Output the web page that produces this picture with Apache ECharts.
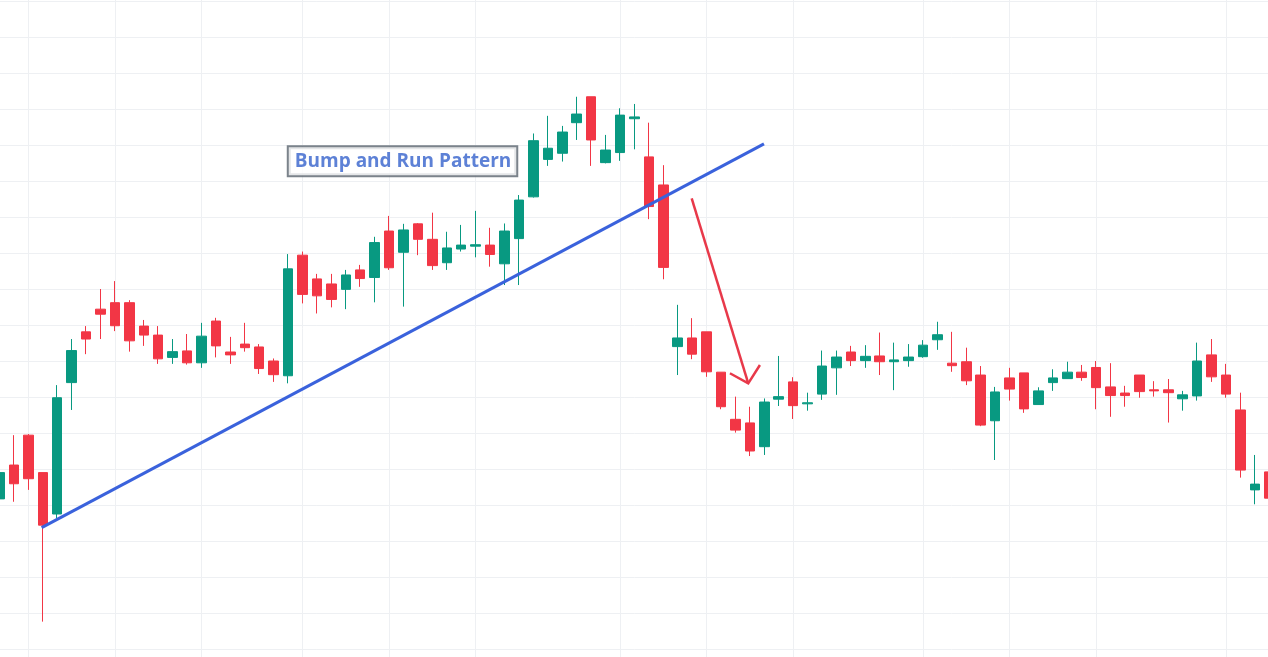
<!DOCTYPE html>
<html>
<head>
<meta charset="utf-8">
<script src="https://cdn.jsdelivr.net/npm/echarts@6/dist/echarts.min.js"></script>
<style>
html,body{margin:0;padding:0;background:#fff;}
#chart{width:1268px;height:657px;}
</style>
</head>
<body>
<div id="chart"></div>
<script>
// Bar index labels (one per candle)
const categories = Array.from({length: 89}, (_, i) => String(i + 1));

// OHLC: [open, close, low, high]
const ohlc = [
  [104.17,104.90,104.08,105.03],
  [105.11,104.59,104.09,105.94],
  [105.94,104.73,104.42,105.97],
  [104.90,103.44,100.76,104.90],
  [103.75,106.98,103.63,107.33],
  [107.40,108.29,106.64,108.61],
  [108.81,108.61,108.19,108.97],
  [109.44,109.30,108.61,110.00],
  [109.62,108.98,108.83,110.22],
  [109.62,108.56,108.26,109.69],
  [108.97,108.72,108.42,109.14],
  [108.72,108.06,107.92,108.97],
  [108.10,108.26,107.92,108.61],
  [108.28,107.95,107.90,108.75],
  [107.95,108.69,107.81,109.06],
  [109.11,108.42,108.10,109.20],
  [108.25,108.17,107.92,108.67],
  [108.47,108.37,108.26,109.06],
  [108.39,107.79,107.64,108.47],
  [108.00,107.62,107.42,108.07],
  [107.59,110.56,107.38,110.97],
  [110.94,109.85,109.60,111.04],
  [110.28,109.81,109.32,110.42],
  [110.14,109.71,109.49,110.42],
  [109.99,110.39,109.44,110.53],
  [110.53,110.29,110.06,110.67],
  [110.32,111.29,109.63,111.45],
  [111.61,110.59,110.53,112.03],
  [111.02,111.64,109.51,111.81],
  [111.81,111.38,110.94,111.83],
  [111.38,110.65,110.53,112.12],
  [110.73,111.14,110.53,111.59],
  [111.11,111.22,111.04,111.78],
  [111.19,111.23,110.88,112.17],
  [111.22,110.96,110.62,111.70],
  [110.70,111.61,110.11,111.82],
  [111.40,112.47,110.11,112.61],
  [112.56,114.12,112.54,114.32],
  [113.60,113.91,113.42,114.81],
  [113.77,114.36,113.54,114.53],
  [114.62,114.86,114.14,115.34],
  [115.34,114.14,113.42,115.34],
  [113.51,113.86,113.49,114.28],
  [113.79,114.83,113.56,115.02],
  [114.73,114.78,113.88,115.14],
  [113.67,112.29,111.94,114.62],
  [112.89,110.60,110.27,113.44],
  [108.40,108.64,107.61,109.56],
  [108.64,108.19,108.05,109.19],
  [108.81,107.70,107.56,108.81],
  [107.69,106.73,106.66,107.69],
  [106.38,106.08,106.01,107.01],
  [106.28,105.50,105.36,106.73],
  [105.62,106.86,105.39,106.96],
  [106.94,107.01,106.75,108.14],
  [107.42,106.76,106.39,107.55],
  [106.81,106.84,106.62,107.12],
  [107.08,107.86,106.92,108.29],
  [107.81,108.11,107.06,108.29],
  [108.25,108.01,107.86,108.42],
  [108.01,108.13,107.81,108.44],
  [108.14,107.98,107.61,108.79],
  [107.98,108.03,107.19,108.51],
  [108.01,108.11,107.84,108.47],
  [108.12,108.44,108.09,108.58],
  [108.59,108.73,108.31,109.09],
  [107.94,107.87,107.70,108.81],
  [107.98,107.45,107.33,108.37],
  [107.61,106.22,106.19,107.86],
  [106.34,107.14,105.25,107.28],
  [107.53,107.22,106.90,107.81],
  [107.67,106.67,106.56,107.67],
  [106.79,107.17,106.79,107.27],
  [107.40,107.53,107.17,107.77],
  [107.51,107.69,107.51,107.98],
  [107.69,107.54,107.45,107.89],
  [107.82,107.26,106.66,108.00],
  [107.28,107.04,106.45,107.94],
  [107.11,107.04,106.73,107.31],
  [107.61,107.15,106.98,107.61],
  [107.20,107.17,107.01,107.44],
  [107.20,107.12,106.29,107.50],
  [106.95,107.06,106.62,107.17],
  [107.03,108.00,106.90,108.51],
  [108.17,107.56,107.42,108.61],
  [107.61,107.08,106.98,107.92],
  [106.64,104.97,104.76,107.12],
  [104.42,104.58,104.02,105.39],
  [104.92,104.19,104.14,105.03]
];

// Bars that carry a vertical grid line
const timeGridBars = [2, 8, 14, 21, 27, 33, 43, 49, 55, 64, 70, 76, 85];

// Annotations in (bar position, price)
const trendLine = [[2.92, 103.37], [52.98, 114.03]];
const arrowShaft = [[47.97, 112.52], [51.89, 107.38]];
const arrowHead = [[50.62, 107.66], [51.89, 107.38], [52.70, 107.89]];
const labelPoint = [[27.93, 113.55]];
const labelText = 'Bump and Run Pattern';

const UP = '#089981', DOWN = '#f23645';
const chart = echarts.init(document.getElementById('chart'));
chart.setOption({
  animation: false,
  backgroundColor: '#ffffff',
  grid: {left: -0.5, right: -1.3, top: -35, bottom: -28, outerBoundsMode: 'none', containLabel: false},
  xAxis: [
    {
      type: 'category', data: categories, boundaryGap: false,
      axisLine: {show: false}, axisTick: {show: false}, axisLabel: {show: false},
      splitLine: {show: true, interval: (i) => timeGridBars.includes(i), lineStyle: {color: '#eef0f3', width: 1}}
    },
    {
      type: 'value', min: 0, max: categories.length - 1, show: false, splitLine: {show: false}
    }
  ],
  yAxis: {
    type: 'value', min: 99, max: 119, interval: 1, scale: false,
    axisLine: {show: false}, axisTick: {show: false}, axisLabel: {show: false},
    splitLine: {show: true, lineStyle: {color: '#eef0f3', width: 1}}
  },
  series: [
    {
      type: 'candlestick', data: ohlc, barWidth: 10, clip: true,
      itemStyle: {color: UP, color0: DOWN, borderColor: UP, borderColor0: DOWN, borderWidth: 1}
    },
    {
      type: 'line', xAxisIndex: 1, data: trendLine, symbol: 'none', silent: true,
      lineStyle: {color: '#3a62dc', width: 3}, z: 5
    },
    {
      type: 'line', xAxisIndex: 1, data: arrowShaft, symbol: 'none', silent: true,
      lineStyle: {color: '#e8394a', width: 2.5}, z: 5
    },
    {
      type: 'line', xAxisIndex: 1, data: arrowHead, symbol: 'none', silent: true,
      lineStyle: {color: '#e8394a', width: 2.5, join: 'miter'}, z: 5
    },
    {
      type: 'scatter', xAxisIndex: 1, data: labelPoint, symbolSize: 0, silent: true, z: 10,
      label: {
        show: true, position: 'inside', formatter: labelText,
        fontFamily: 'Open Sans', fontSize: 19, fontWeight: 'bold', color: '#3461cc',
        backgroundColor: '#ffffff', borderColor: '#5a646e', borderWidth: 2,
        padding: [4, 5, 3, 6], lineHeight: 21
      }
    }
  ]
});
</script>
</body>
</html>
